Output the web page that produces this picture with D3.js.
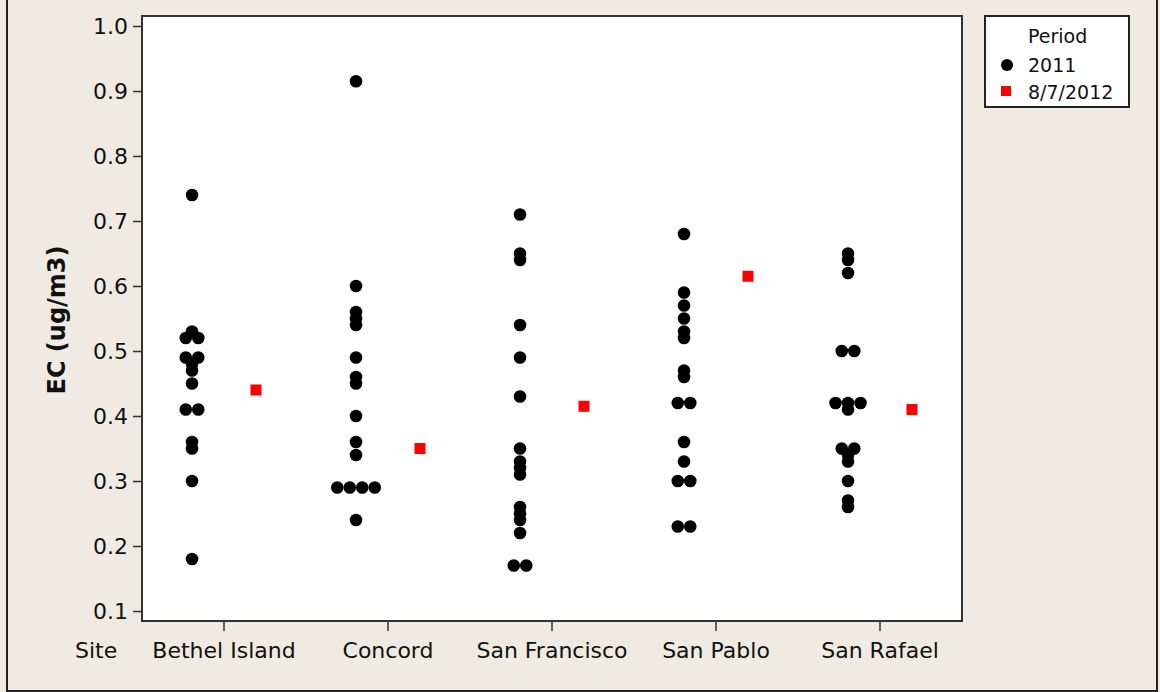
<!DOCTYPE html>
<html>
<head>
<meta charset="utf-8">
<script src="https://cdn.jsdelivr.net/npm/d3@7"></script>
<style>
  body { margin: 0; background: #efebe2; }
  text { font-family: "DejaVu Sans", sans-serif; fill: #111; }
</style>
</head>
<body>
<div class="chart"></div>
<script>
// Individual value plot of EC by site, 2011 samples vs the 8/7/2012 reading

var sites = ['Bethel Island', 'Concord', 'San Francisco', 'San Pablo', 'San Rafael'];

// 2011 samples per site
var bethel2011 = [0.74, 0.53, 0.52, 0.52, 0.49, 0.49, 0.48, 0.47, 0.45, 0.41, 0.41, 0.36, 0.35, 0.30, 0.18];
var concord2011 = [0.915, 0.60, 0.56, 0.55, 0.54, 0.49, 0.46, 0.45, 0.40, 0.36, 0.34, 0.29, 0.29, 0.29, 0.29, 0.24];
var sanFrancisco2011 = [0.71, 0.65, 0.64, 0.54, 0.49, 0.43, 0.35, 0.33, 0.32, 0.31, 0.26, 0.25, 0.24, 0.22, 0.17, 0.17];
var sanPablo2011 = [0.68, 0.59, 0.57, 0.55, 0.53, 0.52, 0.47, 0.46, 0.42, 0.42, 0.36, 0.33, 0.30, 0.30, 0.23, 0.23];
var sanRafael2011 = [0.65, 0.64, 0.62, 0.50, 0.50, 0.42, 0.42, 0.42, 0.41, 0.35, 0.35, 0.34, 0.33, 0.30, 0.27, 0.26];

// single reading on 8/7/2012, same order as sites
var values2012 = [0.44, 0.35, 0.415, 0.615, 0.41];

var yTicks = [0.1, 0.2, 0.3, 0.4, 0.5, 0.6, 0.7, 0.8, 0.9, 1.0];
var periods = ['2011', '8/7/2012'];

var values2011 = [bethel2011, concord2011, sanFrancisco2011, sanPablo2011, sanRafael2011];

var width = 1160, height = 692;
var plot = { left: 142, right: 962, top: 16, bottom: 621 };

var svg = d3.select('.chart').append('svg')
  .attr('width', width)
  .attr('height', height);

// beige background with frame
svg.append('rect')
  .attr('x', 7).attr('y', -2)
  .attr('width', 1150).attr('height', 693)
  .attr('fill', '#efebe2')
  .attr('stroke', '#222')
  .attr('stroke-width', 2);

svg.append('rect')
  .attr('x', plot.left).attr('y', plot.top)
  .attr('width', plot.right - plot.left)
  .attr('height', plot.bottom - plot.top)
  .attr('fill', '#fff');

var x = d3.scaleBand()
  .domain(sites)
  .range([plot.left, plot.right]);

var y = d3.scaleLinear()
  .domain([0.1, 1.0])
  .range([611, 26]);

// sub-position of each period inside a site band
var sub = d3.scalePoint()
  .domain(periods)
  .range([-0.195, 0.195]);

var dotR = 6.3;
var dotStep = 12.5;

// flatten 2011 values, spreading exact ties side by side
var dots2011 = [];
values2011.forEach(function(vals, si) {
  var groups = d3.group(vals, function(v) { return v; });
  groups.forEach(function(list, v) {
    list.forEach(function(d, k) {
      dots2011.push({
        site: sites[si],
        value: v,
        dx: (k - (list.length - 1) / 2) * dotStep
      });
    });
  });
});

var cx = function(site, period) {
  return x(site) + x.bandwidth() / 2 + sub(period) * x.bandwidth();
};

svg.append('g').selectAll('circle')
  .data(dots2011)
  .enter()
  .append('circle')
    .attr('cx', function(d) { return cx(d.site, '2011') + d.dx; })
    .attr('cy', function(d) { return y(d.value); })
    .attr('r', dotR)
    .attr('fill', '#000');

var sq = 11;
svg.append('g').selectAll('rect')
  .data(values2012)
  .enter()
  .append('rect')
    .attr('x', function(d, i) { return cx(sites[i], '8/7/2012') - sq / 2; })
    .attr('y', function(d) { return y(d) - sq / 2; })
    .attr('width', sq)
    .attr('height', sq)
    .attr('fill', '#ff0000');

// plot frame
svg.append('rect')
  .attr('x', plot.left).attr('y', plot.top)
  .attr('width', plot.right - plot.left)
  .attr('height', plot.bottom - plot.top)
  .attr('fill', 'none')
  .attr('stroke', '#333')
  .attr('stroke-width', 2);

// axes
var yAxis = d3.axisLeft(y)
  .tickValues(yTicks)
  .tickFormat(d3.format('.1f'))
  .tickSize(9)
  .tickPadding(5);

var gy = svg.append('g')
  .attr('transform', 'translate(' + plot.left + ',0)')
  .call(yAxis);
gy.select('.domain').remove();
gy.selectAll('line').attr('stroke', '#333').attr('stroke-width', 1.5);
gy.selectAll('text').attr('font-size', 22).attr('fill', '#111');

var xAxis = d3.axisBottom(x)
  .tickSize(10)
  .tickPadding(11);

var gx = svg.append('g')
  .attr('transform', 'translate(0,' + plot.bottom + ')')
  .call(xAxis);
gx.select('.domain').remove();
gx.selectAll('line').attr('stroke', '#333').attr('stroke-width', 1.5);
gx.selectAll('text').attr('font-size', 22).attr('fill', '#111');

svg.append('text')
  .attr('x', 75)
  .attr('y', 658)
  .attr('font-size', 22)
  .text('Site');

svg.append('text')
  .attr('transform', 'translate(65,320) rotate(-90)')
  .attr('text-anchor', 'middle')
  .attr('font-size', 24)
  .attr('font-weight', 'bold')
  .text('EC (ug/m3)');

// legend
var legend = svg.append('g');
legend.append('rect')
  .attr('x', 985).attr('y', 16)
  .attr('width', 144).attr('height', 91)
  .attr('fill', '#fff')
  .attr('stroke', '#222')
  .attr('stroke-width', 2);

legend.append('text')
  .attr('x', 1028).attr('y', 43)
  .attr('font-size', 19)
  .text('Period');

legend.append('circle')
  .attr('cx', 1007).attr('cy', 65)
  .attr('r', 6)
  .attr('fill', '#000');
legend.append('text')
  .attr('x', 1028).attr('y', 72)
  .attr('font-size', 19)
  .text(periods[0]);

legend.append('rect')
  .attr('x', 1001).attr('y', 86)
  .attr('width', 10).attr('height', 10)
  .attr('fill', '#ff0000');
legend.append('text')
  .attr('x', 1028).attr('y', 99)
  .attr('font-size', 19)
  .text(periods[1]);
</script>
</body>
</html>
